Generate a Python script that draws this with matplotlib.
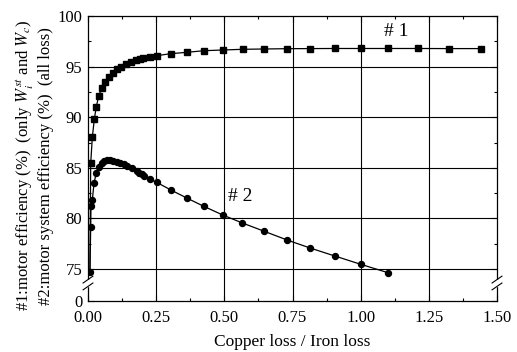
import matplotlib
matplotlib.use("Agg")
import matplotlib.pyplot as plt
from matplotlib.ticker import MultipleLocator, FixedLocator
import numpy as np

plt.rcParams['font.family'] = ['Liberation Serif', 'DejaVu Serif']
plt.rcParams['mathtext.fontset'] = 'stix'

# Series #1: motor efficiency (only W_i^st and W_c)
x1 = [0.007, 0.0099, 0.0158, 0.0232, 0.0305, 0.039, 0.050, 0.061, 0.076, 0.090,
      0.106, 0.122, 0.140, 0.159, 0.177, 0.191, 0.202, 0.227, 0.253, 0.304,
      0.362, 0.425, 0.494, 0.567, 0.647, 0.729, 0.814, 0.906, 1.001, 1.101,
      1.209, 1.324, 1.441]
y1 = [74.7, 85.44, 88.0, 89.82, 91.04, 92.06, 92.85, 93.45, 93.94, 94.40,
      94.73, 94.99, 95.26, 95.49, 95.65, 95.75, 95.82, 95.95, 96.08, 96.28,
      96.41, 96.57, 96.64, 96.71, 96.74, 96.77, 96.78, 96.79, 96.79, 96.79,
      96.79, 96.78, 96.78]

# Series #2: motor system efficiency (all loss)
x2 = [0.007, 0.0099, 0.0110, 0.0158, 0.022, 0.0305, 0.040, 0.050, 0.060, 0.071,
      0.082, 0.093, 0.105, 0.117, 0.131, 0.144, 0.161, 0.179, 0.188, 0.198,
      0.206, 0.226, 0.252, 0.304, 0.362, 0.425, 0.494, 0.566, 0.647, 0.730,
      0.814, 0.906, 1.001, 1.101]
y2 = [74.73, 79.18, 81.23, 81.8, 83.47, 84.52, 85.1, 85.44, 85.64, 85.77,
      85.77, 85.70, 85.6, 85.5, 85.38, 85.21, 84.95, 84.68, 84.52, 84.39,
      84.22, 83.89, 83.56, 82.81, 82.02, 81.19, 80.34, 79.55, 78.72, 77.87,
      77.08, 76.28, 75.46, 74.63]

ytick_vals = [71.84, 75, 80, 85, 90, 95, 100]
ytick_labels = ['0', '75', '80', '85', '90', '95', '100']
xtick_vals = [0.0, 0.25, 0.5, 0.75, 1.0, 1.25, 1.5]
xtick_labels = ['0.00', '0.25', '0.50', '0.75', '1.00', '1.25', '1.50']

fig = plt.figure(figsize=(5.17, 3.52), dpi=100)
ax = fig.add_axes([88/517, 1-301/352, (497-88)/517, (301-16)/352])

ax.plot(x1, y1, color='black', lw=0.9, marker='s', ms=3.8, markevery=slice(1, None))
ax.plot(x2, y2, color='black', lw=0.9, marker='o', ms=4.3)

ax.set_xlim(0, 1.5)
ax.set_ylim(71.84, 100)
ax.set_xticks(xtick_vals)
ax.set_xticklabels(xtick_labels)
ax.set_yticks(ytick_vals)
ax.set_yticklabels(ytick_labels)
ax.xaxis.set_minor_locator(MultipleLocator(0.125))
ax.yaxis.set_minor_locator(FixedLocator([77.5, 82.5, 87.5, 92.5, 97.5]))
ax.tick_params(which='both', direction='in', top=True, right=True, labelsize=12,
               width=0.8)
ax.tick_params(axis='x', pad=6.5)
ax.tick_params(axis='y', pad=4)
ax.tick_params(which='major', length=4)
ax.tick_params(which='minor', length=2.5)

for v in [75, 80, 85, 90, 95]:
    ax.axhline(v, color='black', lw=0.8, zorder=0)
for v in [0.25, 0.5, 0.75, 1.0, 1.25]:
    ax.axvline(v, color='black', lw=0.8, zorder=0)

for s in ax.spines.values():
    s.set_linewidth(0.9)

ax.set_xlabel('Copper loss / Iron loss', fontsize=12.5, labelpad=6)
ax.set_ylabel('#1:motor efficiency (%)  (only $W_i^{st}$ and $W_c$)\n'
              '#2:motor system efficiency (%)  (all loss)', fontsize=12,
              linespacing=1.15)
ax.yaxis.set_label_coords(-0.084, 0.475)

ax.text(1.129, 98.5, '# 1', fontsize=14, ha='center', va='center')
ax.text(0.559, 82.16, '# 2', fontsize=14, ha='center', va='center')

# axis break marks on both vertical spines
ybreak = (301 - 283) / 285
for xa in (0.0, 1.0):
    trans = ax.transAxes
    ax.add_patch(plt.Rectangle((xa - 0.004, ybreak - 0.012), 0.008, 0.024,
                               transform=trans, color='white', clip_on=False, zorder=5))
    for dy in (-0.012, 0.012):
        ax.plot([xa - 0.012, xa + 0.012], [ybreak + dy - 0.012, ybreak + dy + 0.012],
                transform=trans, color='black', lw=0.8, clip_on=False, zorder=6)

fig.savefig('out.png', dpi=100)
